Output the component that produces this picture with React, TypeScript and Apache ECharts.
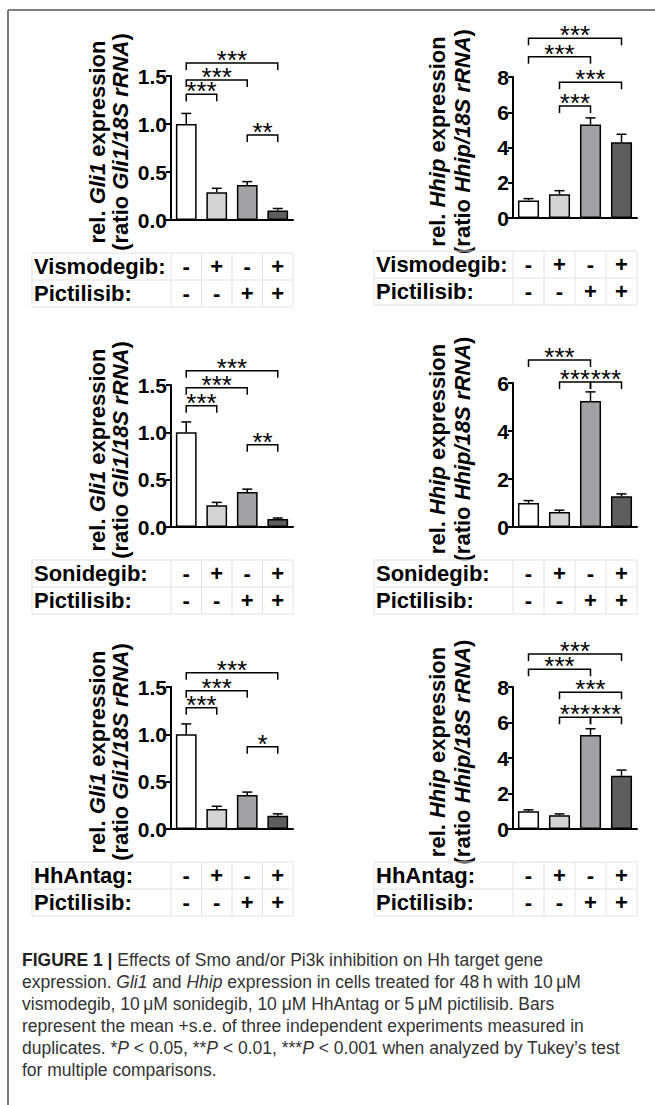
import React, { useEffect, useRef } from "react";
import * as echarts from "echarts";

// ---------- data ----------
const conditions = ["control", "Smo inhibitor", "pictilisib", "Smo inhibitor + pictilisib"];
const smoSigns = ["-", "+", "-", "+"];
const pi3kSigns = ["-", "-", "+", "+"];
const smoDrugs = ["Vismodegib:", "Sonidegib:", "HhAntag:"];
const pi3kDrug = "Pictilisib:";

const gli1TickMax = 1.5;
const gli1TickStep = 0.5;
const hhipTickMax = [8, 6, 8];
const hhipTickStep = 2;

// Gli1 (left column), mean and s.e.
const gli1VismoMean = [1.0, 0.29, 0.365, 0.1];
const gli1VismoSE = [0.11, 0.04, 0.035, 0.02];
const gli1SoniMean = [1.0, 0.23, 0.37, 0.085];
const gli1SoniSE = [0.11, 0.03, 0.03, 0.01];
const gli1AntagMean = [1.0, 0.21, 0.36, 0.14];
const gli1AntagSE = [0.11, 0.03, 0.03, 0.02];

// Hhip (right column), mean and s.e.
const hhipVismoMean = [1.0, 1.35, 5.3, 4.3];
const hhipVismoSE = [0.1, 0.2, 0.38, 0.45];
const hhipSoniMean = [1.0, 0.62, 5.25, 1.28];
const hhipSoniSE = [0.1, 0.08, 0.38, 0.1];
const hhipAntagMean = [1.0, 0.78, 5.3, 3.0];
const hhipAntagSE = [0.08, 0.07, 0.35, 0.32];

// significance brackets: [from, to, level, label]
const gli1VismoSig: [number, number, number, string][] = [
  [0, 3, 1.635, "***"], [0, 2, 1.458, "***"], [0, 1, 1.31, "***"], [2, 3, 0.885, "**"],
];
const gli1SoniSig: [number, number, number, string][] = [
  [0, 3, 1.65, "***"], [0, 2, 1.47, "***"], [0, 1, 1.28, "***"], [2, 3, 0.87, "**"],
];
const gli1AntagSig: [number, number, number, string][] = [
  [0, 3, 1.65, "***"], [0, 2, 1.46, "***"], [0, 1, 1.28, "***"], [2, 3, 0.87, "*"],
];
const hhipVismoSig: [number, number, number, string][] = [
  [0, 3, 10.2, "***"], [0, 2, 9.15, "***"], [1, 3, 7.7, "***"], [1, 2, 6.36, "***"],
];
const hhipSoniSig: [number, number, number, string][] = [
  [0, 2, 6.96, "***"], [1, 2, 6.04, "***"], [2, 3, 6.04, "***"],
];
const hhipAntagSig: [number, number, number, string][] = [
  [0, 3, 9.86, "***"], [0, 2, 9.0, "***"], [1, 3, 7.7, "***"], [1, 2, 6.3, "***"], [2, 3, 6.3, "***"],
];

const captionLines = [
  "{b|FIGURE 1 | }{n|Effects of Smo and/or Pi3k inhibition on Hh target gene}",
  "{n|expression. }{i|Gli1}{n| and }{i|Hhip}{n| expression in cells treated for 48\u2009h with 10\u2009\u03bcM}",
  "{n|vismodegib, 10\u2009\u03bcM sonidegib, 10 \u03bcM HhAntag or 5\u2009\u03bcM pictilisib. Bars}",
  "{n|represent the mean +s.e. of three independent experiments measured in}",
  "{n|duplicates. *}{i|P}{n| < 0.05, **}{i|P}{n| < 0.01, ***}{i|P}{n| < 0.001 when analyzed by Tukey\u2019s test}",
  "{n|for multiple comparisons.}",
];

// ---------- layout / style ----------
const FONT = "'Liberation Sans', Arial, Helvetica, sans-serif";
const barColors = ["#ffffff", "#d4d4d4", "#a2a2a6", "#5e5e5e"];

type Panel = {
  gene: string;
  mean: number[];
  se: number[];
  sig: [number, number, number, string][];
  max: number;
  interval: number;
  drug: string;
  left: number;
  width: number;
  top: number;
  height: number;
  tableLeft: number;
  nameX: [number, number];
};

const LEFT = { left: 171, width: 122, tableLeft: 32, nameX: [97, 120] as [number, number] };
const RIGHT = { left: 513, width: 124, tableLeft: 374, nameX: [437, 462] as [number, number] };

const panels: Panel[] = [
  { gene: "Gli1", mean: gli1VismoMean, se: gli1VismoSE, sig: gli1VismoSig, max: gli1TickMax, interval: gli1TickStep, drug: smoDrugs[0], top: 76, height: 144, ...LEFT },
  { gene: "Hhip", mean: hhipVismoMean, se: hhipVismoSE, sig: hhipVismoSig, max: hhipTickMax[0], interval: hhipTickStep, drug: smoDrugs[0], top: 77, height: 141, ...RIGHT },
  { gene: "Gli1", mean: gli1SoniMean, se: gli1SoniSE, sig: gli1SoniSig, max: gli1TickMax, interval: gli1TickStep, drug: smoDrugs[1], top: 385, height: 142, ...LEFT },
  { gene: "Hhip", mean: hhipSoniMean, se: hhipSoniSE, sig: hhipSoniSig, max: hhipTickMax[1], interval: hhipTickStep, drug: smoDrugs[1], top: 383, height: 144, ...RIGHT },
  { gene: "Gli1", mean: gli1AntagMean, se: gli1AntagSE, sig: gli1AntagSig, max: gli1TickMax, interval: gli1TickStep, drug: smoDrugs[2], top: 687, height: 142, ...LEFT },
  { gene: "Hhip", mean: hhipAntagMean, se: hhipAntagSE, sig: hhipAntagSig, max: hhipTickMax[2], interval: hhipTickStep, drug: smoDrugs[2], top: 687, height: 142, ...RIGHT },
];

function buildOption() {
  const grid: any[] = [];
  const xAxis: any[] = [];
  const yAxis: any[] = [];
  const series: any[] = [];
  panels.forEach((p, k) => {
    grid.push({ left: p.left, top: p.top, width: p.width, height: p.height, containLabel: false });
    xAxis.push({
      type: "category",
      gridIndex: k,
      data: conditions,
      axisLine: { lineStyle: { color: "#000", width: 2 } },
      axisTick: { alignWithLabel: true, length: 5, lineStyle: { color: "#000", width: 2 } },
      axisLabel: { show: false },
    });
    yAxis.push({
      type: "value",
      gridIndex: k,
      min: 0,
      max: p.max,
      interval: p.interval,
      axisLine: { show: true, lineStyle: { color: "#000", width: 2 } },
      axisTick: { show: true, length: 5, lineStyle: { color: "#000", width: 2 } },
      splitLine: { show: false },
      axisLabel: {
        color: "#000",
        fontSize: 21,
        fontWeight: "bold",
        fontFamily: FONT,
        margin: 4,
        formatter: (v: number) => (p.gene === "Gli1" ? v.toFixed(1) : String(v)),
      },
    });
    series.push({
      type: "bar",
      xAxisIndex: k,
      yAxisIndex: k,
      barWidth: "68%",
      itemStyle: { borderColor: "#000", borderWidth: 1.5 },
      data: p.mean.map((v, i) => ({ value: v, itemStyle: { color: barColors[i] } })),
      z: 2,
    });
    series.push({
      type: "custom",
      xAxisIndex: k,
      yAxisIndex: k,
      z: 1,
      encode: { x: 0, y: 1 },
      data: p.mean.map((m, i) => [i, m, p.se[i]]),
      renderItem: (_params: any, api: any) => {
        const i = api.value(0);
        const m = api.value(1);
        const s = api.value(2);
        const base = api.coord([i, m]);
        const top = api.coord([i, m + s]);
        const st = { stroke: "#000", lineWidth: 1.5 };
        return {
          type: "group",
          children: [
            { type: "line", shape: { x1: base[0], y1: base[1], x2: top[0], y2: top[1] }, style: st },
            { type: "line", shape: { x1: top[0] - 5, y1: top[1], x2: top[0] + 5, y2: top[1] }, style: st },
          ],
        };
      },
    });
    series.push({
      type: "custom",
      xAxisIndex: k,
      yAxisIndex: k,
      z: 3,
      clip: false,
      encode: { x: 0, y: 1 },
      data: p.sig.map((b) => [b[0], b[2], b[1]]),
      renderItem: (params: any, api: any) => {
        const b = p.sig[params.dataIndex];
        const p1 = api.coord([b[0], b[2]]);
        const p2 = api.coord([b[1], b[2]]);
        const y = p1[1];
        return {
          type: "group",
          children: [
            {
              type: "polyline",
              shape: { points: [[p1[0], y + 7], [p1[0], y], [p2[0], y], [p2[0], y + 7]] },
              style: { stroke: "#000", fill: null, lineWidth: 1.5 },
            },
            {
              type: "text",
              x: (p1[0] + p2[0]) / 2,
              y: y - 3,
              style: {
                text: b[3],
                fontSize: 26,
                lineHeight: 12,
                fontFamily: FONT,
                fill: "#000",
                align: "center",
                verticalAlign: "middle",
              },
            },
          ],
        };
      },
    });
  });
  return {
    animation: false,
    backgroundColor: "#fff",
    grid,
    xAxis,
    yAxis,
    series,
  };
}

function buildGraphic(chart: any) {
  const els: any[] = [];
  // frame
  els.push({ type: "line", shape: { x1: 8, y1: 10, x2: 655, y2: 10 }, style: { stroke: "#555", lineWidth: 1.5 } });
  els.push({ type: "line", shape: { x1: 8, y1: 10, x2: 8, y2: 1105 }, style: { stroke: "#7a7a7a", lineWidth: 2 } });

  const nameRich = {
    b: { fontSize: 22, fontWeight: "bold", fontFamily: FONT, fill: "#000" },
    bi: { fontSize: 22, fontWeight: "bold", fontStyle: "italic", fontFamily: FONT, fill: "#000" },
  };

  panels.forEach((p, k) => {
    // y axis name (two rotated lines)
    const cy = p.top + p.height / 2 - 6;
    els.push({
      type: "text",
      x: p.nameX[0],
      y: cy,
      rotation: Math.PI / 2,
      style: {
        text: `{b|rel. }{bi|${p.gene}}{b| expression}`,
        rich: nameRich,
        align: "center",
        verticalAlign: "middle",
      },
    });
    els.push({
      type: "text",
      x: p.nameX[1],
      y: cy,
      rotation: Math.PI / 2,
      style: {
        text: `{b|(ratio }{bi|${p.gene}/18S rRNA}{b|)}`,
        rich: nameRich,
        align: "center",
        verticalAlign: "middle",
      },
    });

    // treatment table, columns aligned to the category axis
    const centers = conditions.map((_, i) => chart.convertToPixel({ xAxisIndex: k }, i) as number);
    const half = (centers[1] - centers[0]) / 2;
    const colEdges = [centers[0] - half, ...centers.slice(1).map((c, i) => (c + centers[i]) / 2), centers[3] + half];
    const tTop = p.top + p.height + 33;
    const rowH = 27;
    const right = colEdges[4];
    const lineStyle = { stroke: "#e2e2e2", lineWidth: 1 };
    [0, 1, 2].forEach((r) => {
      els.push({ type: "line", shape: { x1: p.tableLeft, y1: tTop + r * rowH, x2: right, y2: tTop + r * rowH }, style: lineStyle });
    });
    [p.tableLeft, ...colEdges].forEach((x) => {
      els.push({ type: "line", shape: { x1: x, y1: tTop, x2: x, y2: tTop + 2 * rowH }, style: lineStyle });
    });
    const cellStyle = { fontSize: 22, fontWeight: "bold", fontFamily: FONT, fill: "#000", verticalAlign: "middle" };
    els.push({ type: "text", x: p.tableLeft + 2, y: tTop + rowH / 2, style: { ...cellStyle, text: p.drug, align: "left" } });
    els.push({ type: "text", x: p.tableLeft + 2, y: tTop + rowH * 1.5, style: { ...cellStyle, text: pi3kDrug, align: "left" } });
    centers.forEach((c, i) => {
      els.push({ type: "text", x: c, y: tTop + rowH / 2, style: { ...cellStyle, text: smoSigns[i], align: "center" } });
      els.push({ type: "text", x: c, y: tTop + rowH * 1.5, style: { ...cellStyle, text: pi3kSigns[i], align: "center" } });
    });
  });

  // caption
  const capRich = {
    b: { fontSize: 17.5, fontWeight: "bold", fontFamily: FONT, fill: "#222" },
    n: { fontSize: 17.5, fontFamily: FONT, fill: "#333" },
    i: { fontSize: 17.5, fontStyle: "italic", fontFamily: FONT, fill: "#333" },
  };
  captionLines.forEach((line, j) => {
    els.push({
      type: "text",
      x: 22,
      y: 960 + j * 22,
      style: { text: line, rich: capRich, align: "left", verticalAlign: "middle" },
    });
  });
  return els;
}

export default function App() {
  const ref = useRef<HTMLDivElement>(null);
  useEffect(() => {
    if (!ref.current) return;
    const chart = echarts.init(ref.current, undefined, { renderer: "svg" });
    chart.setOption(buildOption() as any);
    chart.setOption({ graphic: buildGraphic(chart) } as any);
    return () => chart.dispose();
  }, []);
  return (
    <div
      ref={ref}
      style={{ position: "absolute", left: 0, top: 0, width: 655, height: 1105, background: "#fff" }}
    />
  );
}
